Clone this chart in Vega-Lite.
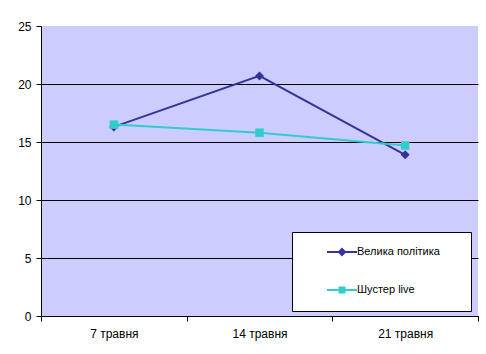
{
  "$schema": "https://vega.github.io/schema/vega-lite/v6.json",
  "width": 437,
  "height": 290,
  "autosize": {"type": "none"},
  "padding": {"left": 41, "top": 26, "right": 8, "bottom": 38},
  "background": "white",
  "config": {
    "font": "Liberation Sans",
    "view": {"fill": "#CCCCFF", "stroke": null}
  },
  "data": {
    "values": [
      {"date": "7 травня", "series": "Велика політика", "value": 16.3},
      {"date": "14 травня", "series": "Велика політика", "value": 20.7},
      {"date": "21 травня", "series": "Велика політика", "value": 13.9},
      {"date": "7 травня", "series": "Шустер live", "value": 16.5},
      {"date": "14 травня", "series": "Шустер live", "value": 15.8},
      {"date": "21 травня", "series": "Шустер live", "value": 14.7}
    ]
  },
  "encoding": {
    "x": {
      "field": "date",
      "type": "ordinal",
      "sort": ["7 травня", "14 травня", "21 травня"],
      "scale": {"type": "band", "paddingInner": 0, "paddingOuter": 0},
      "axis": {
        "title": null,
        "labelAngle": 0,
        "labelFontSize": 12,
        "labelColor": "black",
        "labelPadding": 7,
        "domainColor": "black",
        "tickColor": "black",
        "tickSize": 5,
        "tickBand": "extent",
        "grid": false
      }
    },
    "y": {
      "field": "value",
      "type": "quantitative",
      "scale": {"domain": [0, 25], "nice": false, "zero": true},
      "axis": {
        "title": null,
        "values": [0, 5, 10, 15, 20, 25],
        "labelFontSize": 12,
        "labelColor": "black",
        "labelPadding": 5,
        "domainColor": "black",
        "tickColor": "black",
        "tickSize": 5,
        "grid": true,
        "gridColor": "black",
        "gridOpacity": {"condition": {"test": "datum.value === 25", "value": 0}, "value": 1}
      }
    },
    "color": {
      "field": "series",
      "type": "nominal",
      "scale": {"domain": ["Велика політика", "Шустер live"], "range": ["#333399", "#33CCCC"]},
      "legend": {
        "orient": "none",
        "legendX": 251,
        "legendY": 206,
        "title": ".",
        "titleColor": "white",
        "titleOrient": "right",
        "titlePadding": 14,
        "titleFontSize": 8,
        "fillColor": "white",
        "strokeColor": "black",
        "padding": 14,
        "rowPadding": 24,
        "symbolSize": 100,
        "symbolOffset": 30,
        "labelOffset": 9,
        "labelFontSize": 11,
        "labelColor": "black",
        "encode": {
          "symbols": {
            "update": {
              "shape": {"signal": "datum.value === 'Велика політика' ? 'M-3,0H3M0,-0.6L0.6,0L0,0.6L-0.6,0Z' : 'M-3,0H3M-0.5,-0.5H0.5V0.5H-0.5Z'"},
              "fill": {"scale": "color", "field": "value"},
              "stroke": {"scale": "color", "field": "value"},
              "strokeWidth": {"value": 2},
              "opacity": {"value": 1}
            }
          }
        }
      }
    }
  },
  "layer": [
    {
      "mark": {"type": "line", "strokeWidth": 2}
    },
    {
      "transform": [{"filter": "datum.series === 'Велика політика'"}],
      "mark": {"type": "point", "filled": true, "opacity": 1, "size": 81, "shape": "diamond"}
    },
    {
      "transform": [{"filter": "datum.series === 'Шустер live'"}],
      "mark": {"type": "point", "filled": true, "opacity": 1, "size": 72, "shape": "square"}
    }
  ]
}
